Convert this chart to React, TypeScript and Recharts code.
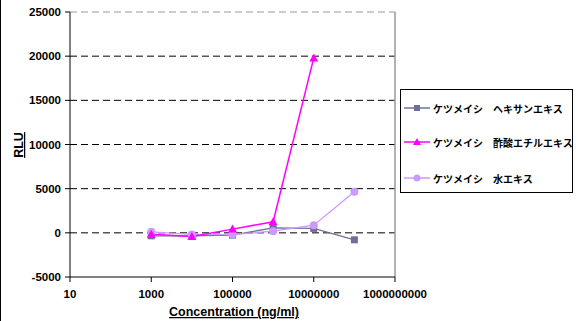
import React from 'react';
import {
    LineChart,
    Line,
    XAxis,
    YAxis,
    CartesianGrid,
    ReferenceLine
} from 'recharts';

// concentrations (ng/ml) and RLU values
const concentrations = [1000, 10000, 100000, 1000000, 10000000, 100000000];
const hexane = [-340, -340, -260, 570, 500, -790];
const ethylAcetate = [-150, -410, 420, 1250, 19800, null];
const water = [110, -180, -200, 190, 870, 4640];

const seriesNames = [
    'ケツメイシ　ヘキサンエキス',
    'ケツメイシ　酢酸エチルエキス',
    'ケツメイシ　水エキス'
];
const seriesColors = ['#6f6f9c', '#ff00ff', '#cc99ff'];

const xTicks = [10, 1000, 100000, 10000000, 1000000000];
const yTicks = [-5000, 0, 5000, 10000, 15000, 20000, 25000];
const gridValues = [0, 5000, 10000, 15000, 20000];

const data = concentrations.map((c, i) => ({
    conc: c,
    hexane: hexane[i],
    ethyl: ethylAcetate[i],
    water: water[i]
}));

const FONT = '"Liberation Sans", Arial, sans-serif';

const SquareDot = ({ cx, cy, fill }: any) =>
    cx == null || cy == null ? null : <rect x={cx - 3.5} y={cy - 3.5} width={7} height={7} fill={fill} />;

const TriangleDot = ({ cx, cy, fill }: any) =>
    cx == null || cy == null ? null : (
        <polygon points={`${cx},${cy - 4.5} ${cx + 4.5},${cy + 3.5} ${cx - 4.5},${cy + 3.5}`} fill={fill} />
    );

const CircleDot = ({ cx, cy, fill }: any) =>
    cx == null || cy == null ? null : <circle cx={cx} cy={cy} r={4} fill={fill} />;

const markers = [
    (c: string) => <rect x={10} y={-3} width={6} height={6} fill={c} />,
    (c: string) => <polygon points="13,-4 17,3 9,3" fill={c} />,
    (c: string) => <circle cx={13} cy={0} r={3.5} fill={c} />
];

const App = () => {
    return (
        <div style={{ position: 'fixed', left: 0, top: 0, width: 582, height: 321, background: '#fff' }}>
            {/* left frame line */}
            <div style={{ position: 'absolute', left: 0, top: 0, width: 1, height: 321, background: '#000' }} />
            <LineChart
                width={582}
                height={321}
                data={data}
                margin={{ top: 12, right: 187, left: 0, bottom: 0 }}
            >
                <CartesianGrid
                    vertical={false}
                    horizontalValues={gridValues}
                    stroke="#000"
                    strokeDasharray="7 4"
                />
                <ReferenceLine y={25000} stroke="#999" strokeDasharray="7 4" />
                <ReferenceLine x={1000000000} stroke="#999" strokeWidth={1.5} />
                <XAxis
                    dataKey="conc"
                    type="number"
                    scale="log"
                    domain={[10, 1000000000]}
                    ticks={xTicks}
                    allowDataOverflow
                    height={44}
                    stroke="#000"
                    tickSize={5}
                    tickMargin={8}
                    tick={{ fontSize: 11.5, fontWeight: 'bold', fill: '#000', fontFamily: FONT }}
                    tickFormatter={(v: number) => String(v)}
                    label={() => (
                        <text
                            x={234}
                            y={316}
                            textAnchor="middle"
                            style={{ fontSize: 12.5, fontWeight: 'bold', fontFamily: FONT, textDecoration: 'underline' }}
                            fill="#000"
                        >
                            Concentration (ng/ml)
                        </text>
                    )}
                />
                <YAxis
                    type="number"
                    domain={[-5000, 25000]}
                    ticks={yTicks}
                    width={70}
                    stroke="#000"
                    tickSize={5}
                    tickMargin={4}
                    interval={0}
                    tick={{ fontSize: 11.5, fontWeight: 'bold', fill: '#000', fontFamily: FONT }}
                    label={() => (
                        <text
                            x={23}
                            y={145}
                            transform="rotate(-90 23 145)"
                            textAnchor="middle"
                            style={{ fontSize: 12.5, fontWeight: 'bold', fontFamily: FONT, textDecoration: 'underline' }}
                            fill="#000"
                        >
                            RLU
                        </text>
                    )}
                />
                <Line
                    dataKey="hexane"
                    name={seriesNames[0]}
                    stroke={seriesColors[0]}
                    strokeWidth={1.3}
                    dot={<SquareDot fill={seriesColors[0]} />}
                    activeDot={false}
                    isAnimationActive={false}
                />
                <Line
                    dataKey="water"
                    name={seriesNames[2]}
                    stroke={seriesColors[2]}
                    strokeWidth={1.3}
                    dot={<CircleDot fill={seriesColors[2]} />}
                    activeDot={false}
                    isAnimationActive={false}
                />
                <Line
                    dataKey="ethyl"
                    name={seriesNames[1]}
                    stroke={seriesColors[1]}
                    strokeWidth={1.5}
                    dot={<TriangleDot fill={seriesColors[1]} />}
                    activeDot={false}
                    isAnimationActive={false}
                />
            </LineChart>

            {/* Legend box */}
            <div
                style={{
                    position: 'absolute',
                    left: 400,
                    top: 89,
                    width: 173,
                    height: 104,
                    border: '1px solid #000',
                    boxSizing: 'border-box',
                    background: '#fff'
                }}
            >
                {seriesNames.map((name, i) => (
                    <div
                        key={name}
                        style={{
                            position: 'absolute',
                            left: 3,
                            top: [11, 45, 81][i],
                            height: 14,
                            display: 'flex',
                            alignItems: 'center',
                            whiteSpace: 'nowrap'
                        }}
                    >
                        <svg width={27} height={14} viewBox="0 -7 27 14" style={{ display: 'block' }}>
                            <line x1={0} y1={0} x2={26} y2={0} stroke={seriesColors[i]} strokeWidth={1.5} />
                            {markers[i](seriesColors[i])}
                        </svg>
                        <span
                            style={{
                                marginLeft: 2,
                                fontSize: 10,
                                fontWeight: 'bold',
                                fontFamily: '"Noto Sans CJK JP", sans-serif',
                                color: '#000'
                            }}
                        >
                            {name}
                        </span>
                    </div>
                ))}
            </div>
        </div>
    );
};

export default App;
